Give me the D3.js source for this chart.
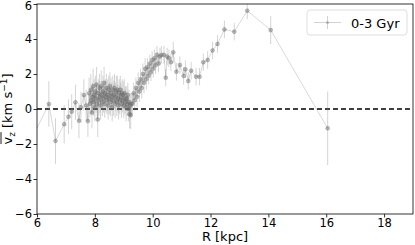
<!DOCTYPE html>
<html>
<head>
<meta charset="utf-8">
<script src="https://cdn.jsdelivr.net/npm/d3@7"></script>
<style>
  body { margin: 0; background: #fff; }
  text { font-family: "DejaVu Sans", sans-serif; }
</style>
</head>
<body>
<div id="chart"></div>
<script>
// galactocentric radius [kpc]
const radius = [5.85, 6.41, 6.64, 6.94, 7.09, 7.20, 7.33, 7.45, 7.52, 7.62, 7.70, 7.76,
  7.80, 7.83, 7.86, 7.88, 7.90, 7.92, 7.94, 7.96, 7.98, 8.00, 8.02, 8.04, 8.06, 8.08, 8.10,
  8.12, 8.14, 8.16, 8.18, 8.20, 8.22, 8.24, 8.26, 8.28, 8.30, 8.32, 8.34, 8.36, 8.38, 8.40,
  8.42, 8.44, 8.46, 8.48, 8.50, 8.52, 8.54, 8.56, 8.58, 8.60, 8.62, 8.64, 8.66, 8.68, 8.70,
  8.72, 8.74, 8.76, 8.78, 8.80, 8.82, 8.84, 8.86, 8.88, 8.90, 8.92, 8.94, 8.96, 8.98, 9.00,
  9.02, 9.04, 9.06, 9.08, 9.10, 9.12, 9.14, 9.16, 9.18, 9.20, 9.22, 9.24, 9.26,
  9.30, 9.34, 9.38, 9.42, 9.46, 9.50, 9.54, 9.58, 9.62, 9.66, 9.70, 9.74, 9.78, 9.82, 9.86,
  9.90, 9.94, 9.98, 10.02, 10.06, 10.10, 10.15, 10.20, 10.25, 10.30, 10.39, 10.45, 10.50,
  10.56, 10.63, 10.71, 10.82, 10.94, 11.07, 11.13, 11.23, 11.33, 11.50, 11.62, 11.75, 11.90,
  12.07, 12.24, 12.48, 12.82, 13.27, 14.08, 16.05];

// mean vertical velocity [km/s]
const vz = [-1.6, 0.29, -1.83, -0.87, -0.44, -0.15, 0.38, -0.67, 0.1, 0.8, 0.2, -0.69,
  0.9, 0.3, 1.1, 0.5, -0.2, 0.7, 1.3, 0.4, 0.8, 0.1, 1.0, 0.6, 1.4, 0.3, -0.6,
  0.9, 0.5, 1.2, 0.7, 0.2, 1.3, 0.8, 0.4, 1.0, 0.6, 1.5, 0.3, 0.9, 0.7, 1.2,
  0.5, 0.8, 0.2, 1.1, 0.6, 1.3, 0.4, 0.9, 0.7, 0.1, 1.1, 0.5, 0.8, 1.2, 0.3,
  0.7, 1.0, 0.4, 1.1, 0.6, 0.2, 0.9, 0.5, 1.1, 0.7, 0.3, 0.9, 0.5, 0.8, 0.2,
  0.9, 0.4, 0.6, 0.1, 0.6, 0.3, 0.8, 0.0, 0.4, -0.3, 0.2, -0.35, 0.3,
  0.3, 0.9, 0.5, 1.2, 0.7, 1.5, 1.0, 1.7, 1.2, 2.0, 1.5, 2.3, 1.7, 2.4, 1.9,
  2.6, 2.1, 2.8, 2.3, 2.9, 2.5, 3.1, 2.6, 3.0, 3.09, 3.1, 1.79, 3.0,
  2.9, 2.67, 3.24, 2.13, 2.51, 1.89, 2.27, 1.6, 2.19, 1.85, 1.85, 2.67, 2.8,
  3.35, 3.72, 4.55, 4.42, 5.62, 4.51, -1.1];

// error bar half-length [km/s]
const vzErr = [1.3, 1.3, 1.3, 1.1, 1.0, 1.0, 1.0, 1.0, 0.9, 0.9, 0.9, 0.9,
  0.9, 0.8, 0.9, 0.8, 0.9, 0.8, 1.0, 0.8, 0.9, 0.8, 0.9, 0.8, 1.0, 0.8, 1.0,
  0.8, 0.9, 0.8, 0.9, 0.8, 0.9, 0.8, 0.8, 0.9, 0.8, 0.9, 0.8, 0.8, 0.9, 0.8,
  0.8, 0.9, 0.8, 0.8, 0.9, 0.8, 0.8, 0.9, 0.8, 0.8, 0.8, 0.9, 0.8, 0.8, 0.8,
  0.8, 0.9, 0.8, 0.8, 0.8, 0.8, 0.8, 0.8, 0.8, 0.8, 0.8, 0.8, 0.7, 0.8, 0.7,
  0.8, 0.7, 0.7, 0.8, 0.7, 0.7, 0.7, 0.7, 0.7, 0.8, 0.7, 0.8, 0.6,
  0.6, 0.6, 0.6, 0.6, 0.6, 0.6, 0.6, 0.6, 0.6, 0.6, 0.6, 0.6, 0.6, 0.5, 0.5,
  0.5, 0.5, 0.5, 0.5, 0.5, 0.5, 0.5, 0.5, 0.5, 0.5, 0.5, 0.5, 0.5,
  0.5, 0.5, 0.6, 0.5, 0.5, 0.5, 0.5, 0.5, 0.5, 0.5, 0.5, 0.5, 0.5,
  0.5, 0.5, 0.5, 0.5, 0.5, 0.8, 2.1];

const xTicks = [6, 8, 10, 12, 14, 16, 18];
const yTicks = [-6, -4, -2, 0, 2, 4, 6];
const seriesLabel = "0-3 Gyr";

const data = radius.map((r, i) => ({ r: r, v: vz[i], e: vzErr[i] }));

let margin = { top: 4, right: 2, bottom: 31, left: 37 },
    width = 415 - margin.left - margin.right,
    height = 245 - margin.top - margin.bottom;

let svg = d3.select("#chart")
    .append("svg")
    .attr("width", 415)
    .attr("height", 245)
    .append("g")
    .attr("transform", "translate(" + margin.left + "," + margin.top + ")");

let x = d3.scaleLinear().domain([6, 19]).range([0, width]);
let y = d3.scaleLinear().domain([-6, 6]).range([height, 0]);

svg.append("clipPath").attr("id", "clip")
    .append("rect").attr("width", width).attr("height", height);

let plot = svg.append("g").attr("clip-path", "url(#clip)");

// zero line
plot.append("line")
    .attr("x1", 0).attr("x2", width)
    .attr("y1", y(0)).attr("y2", y(0))
    .attr("stroke", "#000").attr("stroke-width", 1.3)
    .attr("stroke-dasharray", "5,3");

// connecting line
plot.append("path")
    .datum(data)
    .attr("fill", "none")
    .attr("stroke", "#808080")
    .attr("stroke-opacity", 0.3)
    .attr("stroke-width", 1)
    .attr("d", d3.line().x(d => x(d.r)).y(d => y(d.v)));

// error bars
plot.selectAll(".err")
    .data(data)
    .enter()
    .append("line")
    .attr("x1", d => x(d.r)).attr("x2", d => x(d.r))
    .attr("y1", d => y(d.v - d.e)).attr("y2", d => y(d.v + d.e))
    .attr("stroke", "#808080")
    .attr("stroke-opacity", 0.34)
    .attr("stroke-width", 1);

// markers
plot.selectAll(".pt")
    .data(data)
    .enter()
    .append("circle")
    .attr("cx", d => x(d.r))
    .attr("cy", d => y(d.v))
    .attr("r", 2)
    .attr("fill", "#6a6a6a")
    .attr("fill-opacity", 0.45)
    .attr("stroke", "#6a6a6a")
    .attr("stroke-opacity", 0.45)
    .attr("stroke-width", 0.6);

// axes
let xAxis = svg.append("g")
    .attr("transform", "translate(0," + height + ")")
    .call(d3.axisBottom(x).tickValues(xTicks).tickSize(3.5).tickPadding(1).tickFormat(d3.format("d")));
let yAxis = svg.append("g")
    .call(d3.axisLeft(y).tickValues(yTicks).tickSize(3.5).tickPadding(1.5)
        .tickFormat(d => d < 0 ? "\u2212" + Math.abs(d) : d));

[xAxis, yAxis].forEach(a => {
    a.select(".domain").remove();
    a.selectAll("line").attr("stroke", "#000").attr("stroke-width", 0.8);
    a.selectAll("text").attr("font-size", 11.5).attr("fill", "#000")
        .style("font-family", "DejaVu Sans, sans-serif");
});
// keep the top label inside the page
yAxis.selectAll(".tick").filter(d => d === 6).select("text").attr("y", 1.5);

// frame
svg.append("rect")
    .attr("width", width).attr("height", height)
    .attr("fill", "none").attr("stroke", "#000").attr("stroke-width", 0.8);

// x label
svg.append("text")
    .attr("x", width / 2).attr("y", height + 27)
    .attr("text-anchor", "middle")
    .attr("font-size", 13)
    .text("R [kpc]");

// y label with overline on v_z
let yl = svg.append("g").attr("transform", "translate(-25," + (height / 2) + ") rotate(-90)");
let ylText = yl.append("text")
    .attr("text-anchor", "middle")
    .attr("font-size", 13);
ylText.append("tspan").text("v");
ylText.append("tspan").attr("font-size", 9).attr("dy", 3).text("z");
ylText.append("tspan").attr("dy", -3).text(" [km s");
ylText.append("tspan").attr("font-size", 9).attr("dy", -5).text("\u22121");
ylText.append("tspan").attr("dy", 5).text("]");
let p0 = ylText.node().getStartPositionOfChar(0);
let p1 = ylText.node().getEndPositionOfChar(1);
yl.append("line")
    .attr("x1", p0.x + 0.5).attr("x2", p1.x)
    .attr("y1", -11).attr("y2", -11)
    .attr("stroke", "#000").attr("stroke-width", 0.9);

// legend
let lg = svg.append("g").attr("transform", "translate(" + (width - 106) + ",6)");
lg.append("rect")
    .attr("width", 100).attr("height", 25).attr("rx", 3)
    .attr("fill", "#fff").attr("fill-opacity", 0.8)
    .attr("stroke", "#d6d6d6").attr("stroke-width", 0.8);
lg.append("line")
    .attr("x1", 7).attr("x2", 34).attr("y1", 12.5).attr("y2", 12.5)
    .attr("stroke", "#808080").attr("stroke-opacity", 0.35);
lg.append("line")
    .attr("x1", 20.5).attr("x2", 20.5).attr("y1", 6).attr("y2", 19)
    .attr("stroke", "#808080").attr("stroke-opacity", 0.35);
lg.append("circle")
    .attr("cx", 20.5).attr("cy", 12.5).attr("r", 1.6)
    .attr("fill", "#808080").attr("fill-opacity", 0.45);
lg.append("text")
    .attr("x", 44).attr("y", 17.5)
    .attr("font-size", 13)
    .text(seriesLabel);
</script>
</body>
</html>
